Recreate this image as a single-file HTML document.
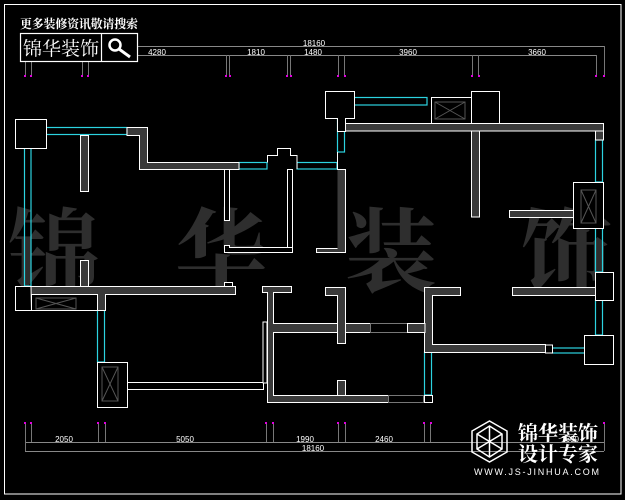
<!DOCTYPE html>
<html><head><meta charset="utf-8"><style>
html,body{margin:0;padding:0;background:#000;}
svg{display:block}
</style></head><body>
<svg width="625" height="500" viewBox="0 0 625 500" xmlns="http://www.w3.org/2000/svg" font-family="Liberation Sans, sans-serif">
<rect x="0" y="0" width="625" height="500" fill="#000"/>
<rect x="4.5" y="4.5" width="616.5" height="489.5" fill="none" stroke="#fff" stroke-width="1"/>
<!-- watermark -->
<g fill="#2e2e2e" font-family="Liberation Serif, 'Noto Serif CJK SC', serif" font-size="92" font-weight="bold">
<text x="8" y="285">锦</text><text x="175" y="285">华</text><text x="345" y="285">装</text><text x="520" y="285">饰</text>
</g>
<!-- top dims -->
<g stroke="#888" stroke-width="1" fill="none">
<line x1="25" y1="46.5" x2="604" y2="46.5"/>
<line x1="25" y1="55.5" x2="596" y2="55.5"/>
<g stroke="#777">
<line x1="25.5" y1="55" x2="25.5" y2="76"/><line x1="31.5" y1="55" x2="31.5" y2="76"/>
<line x1="82.5" y1="55" x2="82.5" y2="76"/><line x1="88.5" y1="55" x2="88.5" y2="76"/>
<line x1="226.5" y1="55" x2="226.5" y2="76"/><line x1="229.5" y1="55" x2="229.5" y2="76"/>
<line x1="287.5" y1="55" x2="287.5" y2="76"/><line x1="290.5" y1="55" x2="290.5" y2="76"/>
<line x1="338.5" y1="55" x2="338.5" y2="76"/><line x1="344.5" y1="55" x2="344.5" y2="76"/>
<line x1="472.5" y1="55" x2="472.5" y2="76"/><line x1="478.5" y1="55" x2="478.5" y2="76"/>
<line x1="596.5" y1="55" x2="596.5" y2="76"/><line x1="604.5" y1="46" x2="604.5" y2="76"/>
</g>
<!-- bottom dims -->
<line x1="25" y1="442.5" x2="604" y2="442.5"/>
<line x1="25" y1="451.5" x2="604" y2="451.5"/>
<g stroke="#777">
<line x1="25.5" y1="423" x2="25.5" y2="451"/><line x1="31.5" y1="423" x2="31.5" y2="442"/>
<line x1="98.5" y1="423" x2="98.5" y2="442"/><line x1="105.5" y1="423" x2="105.5" y2="442"/>
<line x1="266.5" y1="423" x2="266.5" y2="442"/><line x1="273.5" y1="423" x2="273.5" y2="442"/>
<line x1="338.5" y1="423" x2="338.5" y2="442"/><line x1="345.5" y1="423" x2="345.5" y2="442"/>
<line x1="424.5" y1="423" x2="424.5" y2="442"/><line x1="430.5" y1="423" x2="430.5" y2="442"/>
<line x1="604.5" y1="423" x2="604.5" y2="451"/>
</g>
</g>
<g fill="#e000e0">
<rect x="24" y="75" width="2" height="2"/><rect x="30" y="75" width="2" height="2"/><rect x="81" y="75" width="2" height="2"/><rect x="87" y="75" width="2" height="2"/><rect x="225" y="75" width="2" height="2"/><rect x="229" y="75" width="2" height="2"/><rect x="286" y="75" width="2" height="2"/><rect x="290" y="75" width="2" height="2"/><rect x="337" y="75" width="2" height="2"/><rect x="344" y="75" width="2" height="2"/><rect x="471" y="75" width="2" height="2"/><rect x="478" y="75" width="2" height="2"/><rect x="595" y="75" width="2" height="2"/><rect x="603" y="75" width="2" height="2"/>
<rect x="24" y="422" width="2" height="2"/><rect x="30" y="422" width="2" height="2"/><rect x="97" y="422" width="2" height="2"/><rect x="104" y="422" width="2" height="2"/><rect x="265" y="422" width="2" height="2"/><rect x="272" y="422" width="2" height="2"/><rect x="337" y="422" width="2" height="2"/><rect x="344" y="422" width="2" height="2"/><rect x="423" y="422" width="2" height="2"/><rect x="430" y="422" width="2" height="2"/><rect x="603" y="422" width="2" height="2"/>
</g>
<g fill="#fff" font-size="8" text-anchor="middle">
<text x="314" y="46">18160</text>
<text x="56" y="55">1830</text><text x="157" y="55">4280</text><text x="256" y="55">1810</text><text x="313" y="55">1480</text><text x="408" y="55">3960</text><text x="537" y="55">3660</text>
<text x="64" y="442">2050</text><text x="185" y="442">5050</text><text x="305" y="442">1990</text><text x="384" y="442">2460</text><text x="570" y="442">1600</text><text x="313" y="451">18160</text>
</g>
<!-- cyan windows -->
<g fill="none" stroke="#2cd3e0" stroke-width="1.2">
<rect x="46" y="127.5" width="81" height="7"/>
<rect x="24.5" y="148" width="6.5" height="138"/>
<rect x="97.5" y="310" width="7" height="52"/>
<rect x="239" y="162.5" width="28" height="6.5"/>
<rect x="297" y="162.5" width="40" height="6.5"/>
<rect x="337.5" y="118" width="7" height="34"/>
<rect x="354" y="97.5" width="73" height="7.5"/>
<rect x="595.5" y="140" width="7" height="42"/>
<rect x="595.5" y="228" width="7" height="44"/>
<rect x="595.5" y="300" width="7" height="35"/>
<rect x="552" y="348" width="33" height="5"/>
<rect x="424.5" y="352" width="7" height="43"/>
</g>
<!-- walls -->
<g fill="#3a3a3a" stroke="#fff" stroke-width="1">
<rect x="15.5" y="119.5" width="31" height="29" fill="#000"/>
<path d="M127 127.5H147.5V162.5H239V169.5H139.5V135.5H127Z"/>
<rect x="80.5" y="135.5" width="8" height="56"/>
<rect x="80.5" y="260.5" width="8" height="30"/>
<rect x="15.5" y="286.5" width="16" height="24" fill="#000"/>
<path d="M31 286.5H235.5V294.5H105.5V310.5H31.5Z"/>
<rect x="31.5" y="294.5" width="66" height="16" fill="#000"/>
<rect x="97.5" y="362.5" width="30" height="45" fill="#000"/>
<rect x="127.5" y="382.5" width="136" height="7" fill="#000"/>
<path d="M224.5 169.5H229.5V220.5H224.5Z" fill="#000"/>
<path d="M224.5 245.5H229.5V247.5H292.5V252.5H224.5Z" fill="#000"/>
<rect x="287.5" y="169.5" width="5" height="78" fill="#000"/>
<path d="M267.5 162.5V155.5H277.5V148.5H290.5V155.5H297V169" fill="#000"/>
<path d="M337.5 152V169.5H345.5V252.5H316.5V248.5H337.5" fill="#3a3a3a"/>
<path d="M325.5 91.5H354.5V118.5H345.5V131.5H337.5V118.5H325.5Z" fill="#000"/>
<rect x="345.5" y="123.5" width="258" height="7.5"/>
<rect x="431.5" y="97.5" width="40" height="26" fill="#000"/>
<rect x="471.5" y="91.5" width="28" height="32" fill="#000"/>
<rect x="595.5" y="131" width="8" height="9"/>
<rect x="471.5" y="131" width="8" height="86"/>
<rect x="509.5" y="210.5" width="64" height="7"/>
<rect x="573.5" y="182.5" width="30" height="46" fill="#000"/>
<rect x="595.5" y="272.5" width="18" height="28" fill="#000"/>
<rect x="512.5" y="287.5" width="83" height="8"/>
<rect x="584.5" y="335.5" width="29" height="29" fill="#000"/>
<path d="M432.5 295.5V344.5H545.5V352.5H424.5V287.5H460.5V295.5Z"/>
<rect x="545.5" y="345" width="7" height="8" fill="#000"/>
<path d="M262.5 286.5H291.5V292.5H273.5V323.5H370.5V332.5H273.5V395.5H388.5V402.5H267.5V292.5H262.5Z"/>
<rect x="263" y="322" width="4" height="61" fill="#000"/>
<rect x="370.5" y="323.5" width="37" height="9" fill="#000" stroke="#777"/>
<path d="M407.5 323.5H425V332.5H407.5Z"/>
<path d="M325.5 287.5H345.5V343.5H337.5V295.5H325.5Z"/>
<rect x="337.5" y="380.5" width="8" height="15"/>
<rect x="388.5" y="395.5" width="35" height="7" fill="#000" stroke="#777"/>
<rect x="424.5" y="395.5" width="8" height="7" fill="#000"/>
<rect x="224.5" y="282.5" width="8" height="4" fill="#000"/>
</g>
<!-- AC boxes -->
<g fill="none" stroke="#555" stroke-width="1">
<rect x="36" y="298" width="40" height="11"/><path d="M36 298L76 309M76 298L36 309"/>
<rect x="102" y="367" width="16" height="34"/><path d="M102 367L118 401M118 367L102 401"/>
<rect x="435" y="102" width="30" height="17"/><path d="M435 102L465 119M465 102L435 119"/>
<rect x="581" y="190" width="15" height="33"/><path d="M581 190L596 223M596 190L581 223"/>
</g>
<!-- top-left logo -->
<text x="20" y="28" fill="#fff" font-size="12" font-weight="bold" font-family="Liberation Serif, 'Noto Serif CJK SC', serif" textLength="118">更多装修资讯敬请搜索</text>
<rect x="20.5" y="33.5" width="117" height="28" fill="#000" stroke="#fff" stroke-width="1.2"/>
<line x1="101.5" y1="33" x2="101.5" y2="62" stroke="#fff" stroke-width="1.2"/>
<text x="23" y="55" fill="#fff" font-size="19" font-family="Liberation Serif, 'Noto Serif CJK SC', serif">锦华装饰</text>
<circle cx="115" cy="45" r="5.5" fill="none" stroke="#fff" stroke-width="2.5"/>
<line x1="119" y1="49" x2="130" y2="57" stroke="#fff" stroke-width="3"/>
<!-- bottom-right logo -->
<g fill="none" stroke="#fff" stroke-width="1.5">
<polygon points="489.5,421 507,431 507,452 489.5,462 472,452 472,431"/>
<polygon points="489.5,426 502,434 502,449 489.5,457 477,449 477,434"/>
<path d="M489.5 426V457M477 434L502 449M502 434L477 449"/>
</g>
<g fill="#fff" font-size="20" font-weight="bold" font-family="Liberation Serif, 'Noto Serif CJK SC', serif">
<text x="518" y="440" textLength="80">锦华装饰</text>
<text x="518" y="461" textLength="80">设计专家</text>
</g>
<text x="474" y="475" fill="#fff" font-size="9" textLength="125">WWW.JS-JINHUA.COM</text>
</svg>
</body></html>
